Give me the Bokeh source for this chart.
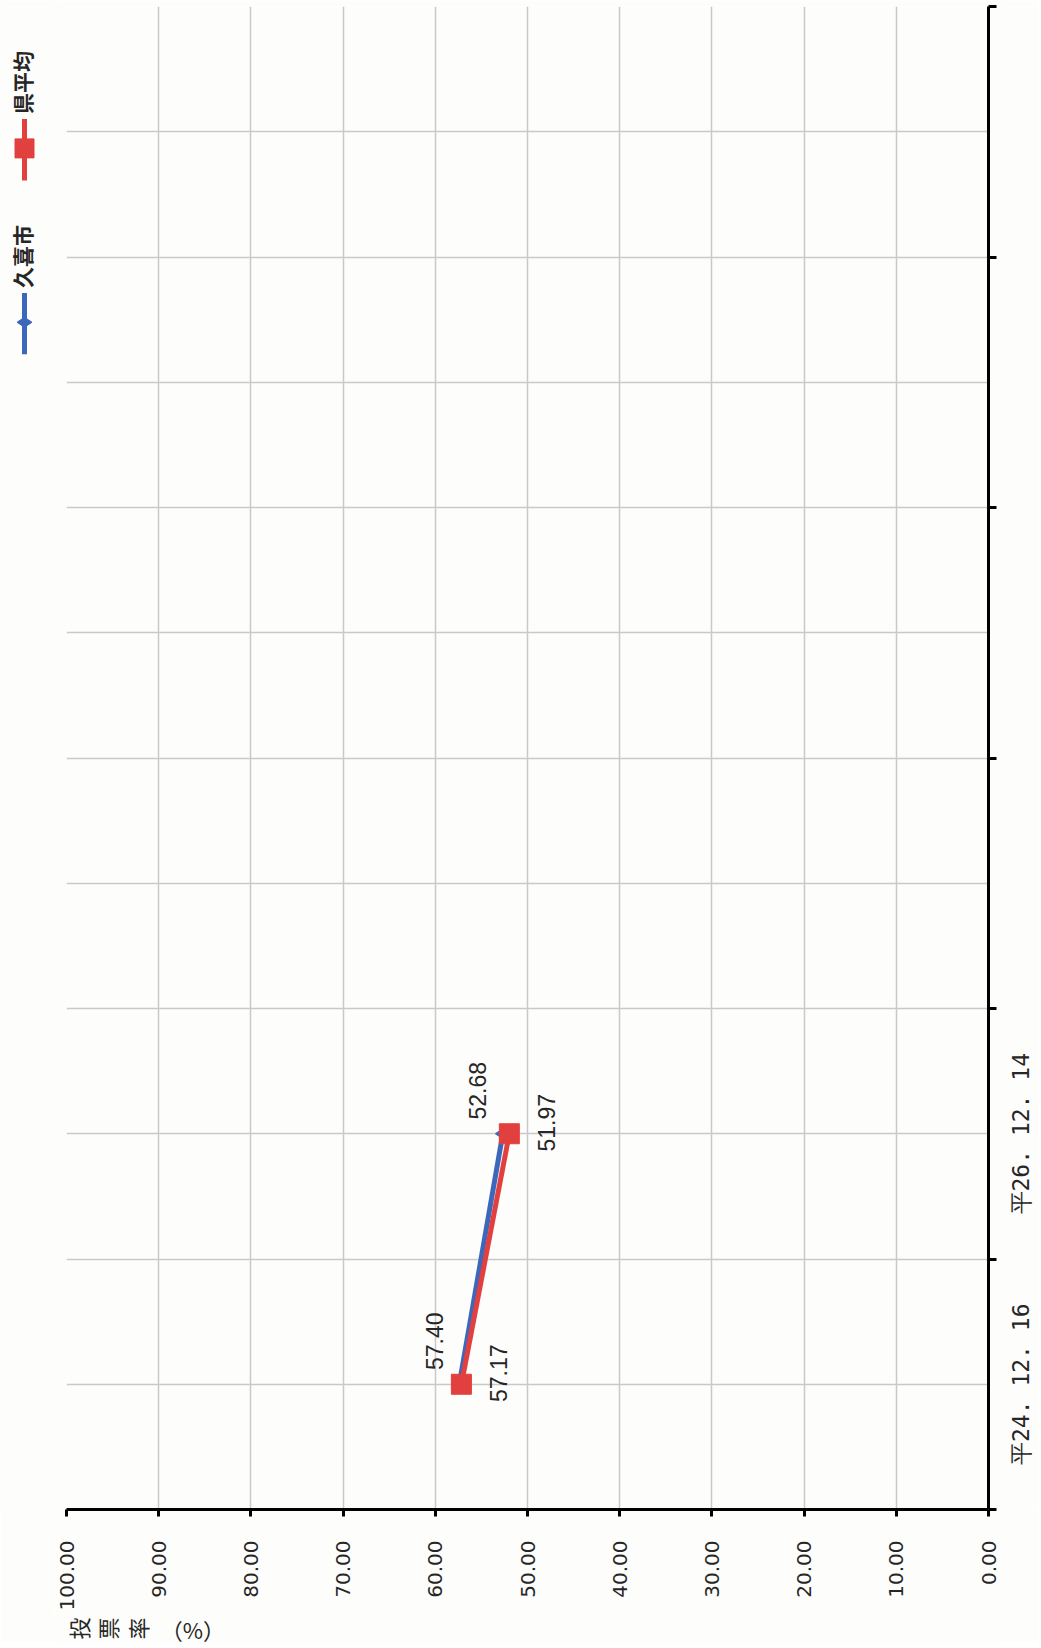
import math
from bokeh.plotting import figure
from bokeh.models import Range1d, FixedTicker, ColumnDataSource
from bokeh.layouts import row, column
from bokeh.embed import file_html
from bokeh.resources import INLINE
from bokeh.core.properties import value

# ---------------- data ----------------
categories = ["平24. 12. 16", "平26. 12. 14", "", "", "", ""]
series_names = ["久喜市", "県平均"]
kuki_values = [57.40, 52.68]
ken_values = [57.17, 51.97]
value_ticks = [0, 10, 20, 30, 40, 50, 60, 70, 80, 90, 100]
value_tick_labels = ["0.00", "10.00", "20.00", "30.00", "40.00", "50.00",
                     "60.00", "70.00", "80.00", "90.00", "100.00"]
axis_title_chars = ["投", "票", "率"]
axis_title_tail = "（%）"

# ---------------- styles ----------------
BLUE = "#3c68bc"
RED = "#e2403e"
BG = "#fdfdfb"
TEXT = "#262626"
GRID = "#c9c9c9"
ROT = math.pi / 2

TOTAL_H = 1642
FRAME_TOP = 6
FRAME_H = 1503
MAIN_LEFT = 12
FRAME_W = 922
MAIN_RIGHT = 14
MAIN_BOTTOM = 103
TITLE_H = TOTAL_H - (FRAME_TOP + FRAME_H + MAIN_BOTTOM)
LEG_W = 54
CAT_W = 36

n = len(categories)
centers = [i + 0.5 for i in range(n)]
bounds = list(range(n + 1))
y_range = Range1d(0, n)


def strip(width, height, x_range, y_range, **kw):
    f = figure(width=width, height=height, x_range=x_range, y_range=y_range,
               output_backend="svg", toolbar_location=None,
               x_axis_location=None, y_axis_location=None,
               background_fill_color=BG, border_fill_color=BG, outline_line_color=None,
               **kw)
    f.grid.visible = False
    return f


# ---------------- main chart ----------------
p = figure(frame_width=FRAME_W, frame_height=FRAME_H,
           x_range=Range1d(100, 0), y_range=y_range,
           y_axis_location="right", output_backend="svg", toolbar_location=None,
           min_border_left=MAIN_LEFT, min_border_top=FRAME_TOP,
           min_border_right=MAIN_RIGHT, min_border_bottom=MAIN_BOTTOM,
           background_fill_color=BG, border_fill_color=BG, outline_line_color=None)

# value axis (bottom)
xa = p.xaxis[0]
xa.ticker = FixedTicker(ticks=value_ticks)
xa.major_label_overrides = {t: l for t, l in zip(value_ticks, value_tick_labels)}
xa.major_label_orientation = ROT
xa.axis_line_width = 3
xa.axis_line_color = "black"
xa.major_tick_line_width = 3
xa.major_tick_line_color = "black"
xa.major_tick_out = 7
xa.major_tick_in = 0
xa.minor_tick_line_color = None
xa.major_label_standoff = 24
xa.major_label_text_font = "DejaVu Sans"
xa.major_label_text_font_size = "20px"
xa.major_label_text_color = TEXT

# category axis (right): ticks at category boundaries, labels drawn in the strip
ya = p.yaxis[0]
ya.ticker = FixedTicker(ticks=centers, minor_ticks=bounds)
ya.major_label_overrides = {c: "" for c in centers}
ya.major_label_standoff = 0
ya.major_tick_line_color = None
ya.major_tick_out = 0
ya.major_tick_in = 0
ya.minor_tick_out = 8
ya.minor_tick_in = 0
ya.minor_tick_line_width = 3
ya.minor_tick_line_color = "black"
ya.axis_line_width = 3
ya.axis_line_color = "black"

# grids
p.xgrid.ticker = FixedTicker(ticks=value_ticks)
p.ygrid.ticker = FixedTicker(ticks=sorted(centers + bounds))
p.grid.grid_line_color = GRID
p.grid.grid_line_width = 1.5

# series
src_kuki = ColumnDataSource(dict(x=kuki_values, y=centers[:len(kuki_values)],
                                 label=[f"{v:.2f}" for v in kuki_values]))
src_ken = ColumnDataSource(dict(x=ken_values, y=centers[:len(ken_values)],
                                label=[f"{v:.2f}" for v in ken_values]))

p.line("x", "y", source=src_kuki, line_color=BLUE, line_width=5)
p.scatter("x", "y", source=src_kuki, marker="diamond", size=15, color=BLUE, angle=ROT)
p.line("x", "y", source=src_ken, line_color=RED, line_width=5)
p.scatter("x", "y", source=src_ken, marker="square", size=20, color=RED)

lbl_style = dict(angle=ROT, text_align="center", text_baseline="middle",
                 text_font=value("Liberation Sans"), text_font_size="23px", text_color=TEXT)
p.text("x", "y", "label", source=src_kuki, x_offset=-25, y_offset=-43, **lbl_style)
p.text("x", "y", "label", source=src_ken, x_offset=37, y_offset=-11, **lbl_style)

MAIN_W = MAIN_LEFT + FRAME_W + MAIN_RIGHT

# ---------------- axis title strip (below main) ----------------
tt = strip(MAIN_W, TITLE_H, Range1d(0, MAIN_W), Range1d(0, TITLE_H), min_border=0)
tt.text([12 + 30 * i for i in range(len(axis_title_chars))],
        [TITLE_H / 2] * len(axis_title_chars), axis_title_chars,
        angle=ROT, text_align="center", text_baseline="middle",
        text_font=value("Noto Sans CJK JP"), text_font_size="22px", text_color=TEXT)
tt.text([130], [TITLE_H / 2], [axis_title_tail], text_align="center", text_baseline="middle",
        text_font=value("Noto Sans CJK JP"), text_font_size="22px", text_color=TEXT)

# ---------------- category label strip (right) ----------------
cs = strip(CAT_W, TOTAL_H, Range1d(0, CAT_W), y_range,
           min_border_left=0, min_border_right=0, min_border_top=FRAME_TOP,
           min_border_bottom=TOTAL_H - FRAME_TOP - FRAME_H)
cs.text([18] * n, centers, categories, angle=ROT, text_align="center", text_baseline="middle",
        text_font=value("DejaVu Sans Mono"), text_font_size="23px", text_color=TEXT)

# ---------------- legend strip (left) ----------------
lg = strip(LEG_W, TOTAL_H, Range1d(0, LEG_W), Range1d(0, TOTAL_H), min_border=0)
legend_colors = [BLUE, RED]
legend_markers = [("diamond", 15, ROT), ("square", 19, 0)]
for i, (name, col, (mk, sz, ang)) in enumerate(zip(series_names, legend_colors, legend_markers)):
    top = 313 - 190 * i          # px from top where the symbol starts
    lg.line([24, 24], [TOTAL_H - top, TOTAL_H - (top + 67)], line_color=col, line_width=5)
    lg.scatter([24], [TOTAL_H - (top + 32)], marker=mk, size=sz, color=col, angle=ang)
    lg.text([21], [TOTAL_H - (top - 40)], [name], angle=ROT, text_align="center",
            text_baseline="middle", text_font=value("Noto Sans CJK JP"),
            text_font_size="21px", text_font_style="bold", text_color=TEXT)

layout = row(lg, column(p, tt), cs)
open("out.html", "w").write(file_html(layout, INLINE))
